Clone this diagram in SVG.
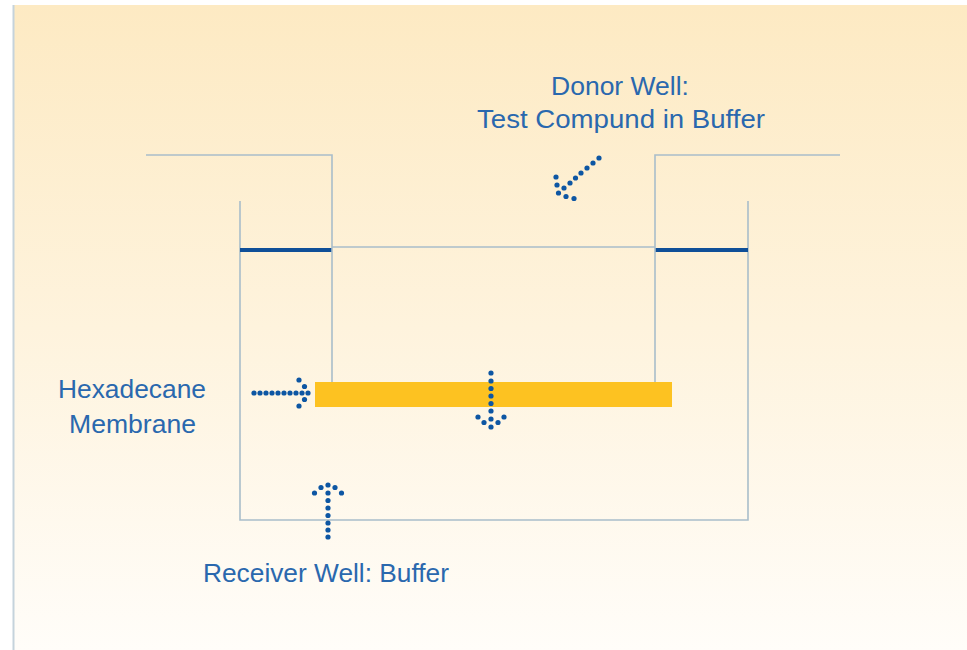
<svg xmlns="http://www.w3.org/2000/svg" width="967" height="650" viewBox="0 0 967 650">
<defs>
<linearGradient id="bg" x1="0" y1="0" x2="0" y2="1">
<stop offset="0" stop-color="#fdeac3"/>
<stop offset="0.5" stop-color="#fef3dd"/>
<stop offset="1" stop-color="#fffdf9"/>
</linearGradient>
<style>
.thin{fill:none;stroke:#a9bdca;stroke-width:1.6}
.thick{stroke:#0f4f98;stroke-width:4}
.lbl{font-family:"Liberation Sans",Arial,sans-serif;font-size:26px;fill:#2a68ae}
.dot{fill:#0d56a3}
</style>
</defs>
<rect x="0" y="0" width="967" height="650" fill="#ffffff"/>
<rect x="13" y="5" width="954" height="645" fill="url(#bg)"/>
<line x1="13.5" y1="5" x2="13.5" y2="650" stroke="#c5d3dc" stroke-width="2"/>

<g id="receiver-well">
<polyline class="thin" points="240,201 240,520 748,520 748,201"/>
<line class="thick" x1="240" y1="250" x2="332" y2="250"/>
<line class="thick" x1="655" y1="250" x2="748" y2="250"/>
</g>
<g id="donor-well">
<polyline class="thin" points="146,155 332,155 332,382"/>
<polyline class="thin" points="840,155 655,155 655,382"/>
<line class="thin" x1="332" y1="247" x2="655" y2="247"/>
</g>
<g id="membrane">
<rect x="315" y="382" width="357" height="25" fill="#fdc221"/>
</g>

<g id="connectors" class="dot">
<g id="arrow-donor">
<circle cx="599" cy="158" r="2.6"/><circle cx="593" cy="163" r="2.6"/><circle cx="587" cy="168" r="2.6"/><circle cx="581" cy="173" r="2.6"/><circle cx="575.5" cy="178" r="2.6"/><circle cx="570" cy="183" r="2.6"/><circle cx="564" cy="188" r="2.6"/>
<circle cx="556" cy="177" r="2.6"/><circle cx="557" cy="185" r="2.6"/><circle cx="558.5" cy="193" r="2.6"/><circle cx="566" cy="196.5" r="2.6"/><circle cx="574" cy="198.5" r="2.6"/>
</g>
<g id="arrow-hexadecane">
<circle cx="254" cy="393" r="2.6"/><circle cx="260" cy="393" r="2.6"/><circle cx="266" cy="393" r="2.6"/><circle cx="272" cy="393" r="2.6"/><circle cx="278" cy="393" r="2.6"/><circle cx="284" cy="393" r="2.6"/><circle cx="290" cy="393" r="2.6"/><circle cx="296" cy="393" r="2.6"/><circle cx="302" cy="393" r="2.6"/><circle cx="308" cy="393" r="2.6"/>
<circle cx="299" cy="380" r="2.6"/><circle cx="304.5" cy="386.5" r="2.6"/><circle cx="304.5" cy="399.5" r="2.6"/><circle cx="299" cy="406" r="2.6"/>
</g>
<g id="arrow-down">
<circle cx="491" cy="373" r="2.6"/><circle cx="491" cy="381" r="2.6"/><circle cx="491" cy="388.5" r="2.6"/><circle cx="491" cy="396" r="2.6"/><circle cx="491" cy="403.5" r="2.6"/><circle cx="491" cy="411" r="2.6"/><circle cx="491" cy="419" r="2.6"/><circle cx="491" cy="427" r="2.6"/>
<circle cx="478" cy="417" r="2.6"/><circle cx="484" cy="422.5" r="2.6"/><circle cx="498" cy="422.5" r="2.6"/><circle cx="504" cy="417" r="2.6"/>
</g>
<g id="arrow-up">
<circle cx="328" cy="537" r="2.6"/><circle cx="328" cy="530" r="2.6"/><circle cx="328" cy="523" r="2.6"/><circle cx="328" cy="515.5" r="2.6"/><circle cx="328" cy="508" r="2.6"/><circle cx="328" cy="500.5" r="2.6"/><circle cx="328" cy="493" r="2.6"/><circle cx="328" cy="485" r="2.6"/>
<circle cx="321" cy="487.5" r="2.6"/><circle cx="335" cy="487.5" r="2.6"/><circle cx="314.5" cy="493" r="2.6"/><circle cx="341.5" cy="493" r="2.6"/>
</g>
</g>

<g id="label-donor">
<text class="lbl" x="551" y="95" textLength="138" lengthAdjust="spacingAndGlyphs">Donor Well:</text>
<text class="lbl" x="477" y="128" textLength="288" lengthAdjust="spacingAndGlyphs">Test Compund in Buffer</text>
</g>
<g id="label-hexadecane">
<text class="lbl" x="58" y="398" textLength="148" lengthAdjust="spacingAndGlyphs">Hexadecane</text>
<text class="lbl" x="69" y="433" textLength="127" lengthAdjust="spacingAndGlyphs">Membrane</text>
</g>
<g id="label-receiver">
<text class="lbl" x="203" y="582" textLength="246" lengthAdjust="spacingAndGlyphs">Receiver Well: Buffer</text>
</g>
</svg>
